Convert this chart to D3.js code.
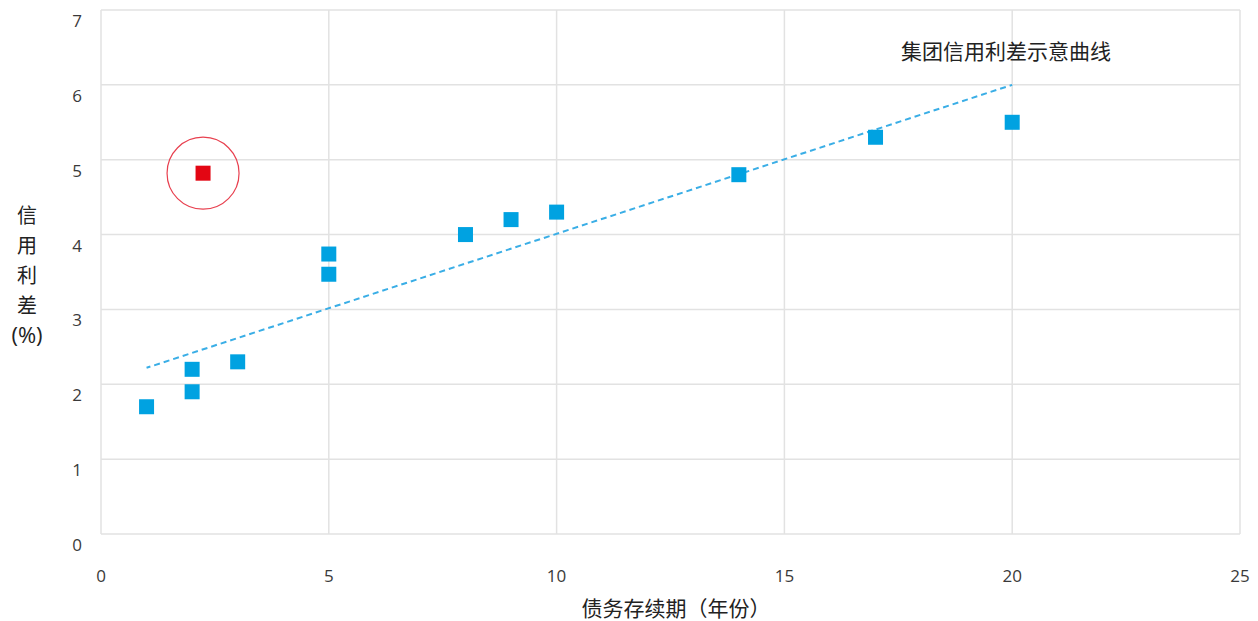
<!DOCTYPE html>
<html lang="zh">
<head>
<meta charset="UTF-8">
<title>集团信用利差示意曲线</title>
<script src="https://d3js.org/d3.v7.min.js"></script>
<style>
    html, body { margin: 0; background: #fff; overflow: hidden; }
    text { font-family: "Open Sans", "Noto Sans CJK SC", sans-serif; }
</style>
</head>
<body>
<svg id="svg"></svg>
<script>
    // data
    const duration = [1, 2, 2, 3, 5, 5, 8, 9, 10, 14, 17, 20];
    const spread   = [1.7, 1.9, 2.2, 2.3, 3.47, 3.74, 4.0, 4.2, 4.3, 4.8, 5.3, 5.5];
    const outlier = [2.24, 4.82];
    const trendX = [1, 20];
    const trendY = [2.22, 6.0];
    const xTicks = [0, 5, 10, 15, 20, 25];
    const yTicks = [0, 1, 2, 3, 4, 5, 6, 7];
    const yTitle = ['信', '用', '利', '差', '(%)'];

    const width = 1258, height = 621;
    const margin = { top: 10, left: 101, right: 18, bottom: 87 };
    const svg = d3.select('#svg').attr('width', width).attr('height', height);

    const x = d3.scaleLinear().domain([0, 25]).range([margin.left, width - margin.right]);
    const y = d3.scaleLinear().domain([0, 7]).range([height - margin.bottom, margin.top]);

    const grid = svg.append('g').attr('stroke', '#e2e2e2').attr('stroke-width', 1.5);
    grid.selectAll('.gy').data(yTicks).join('line')
        .attr('x1', x(0)).attr('x2', x(25))
        .attr('y1', d => y(d)).attr('y2', d => y(d));
    grid.selectAll('.gx').data(xTicks).join('line')
        .attr('x1', d => x(d)).attr('x2', d => x(d))
        .attr('y1', y(0)).attr('y2', y(7));

    // tick labels
    svg.append('g').selectAll('text').data(yTicks).join('text')
        .attr('x', 77).attr('y', d => y(d) + 17)
        .attr('text-anchor', 'middle')
        .attr('font-size', 17).attr('fill', '#3a3a3a')
        .text(d => d);
    svg.append('g').selectAll('text').data(xTicks).join('text')
        .attr('x', d => x(d)).attr('y', 582)
        .attr('text-anchor', 'middle')
        .attr('font-size', 17).attr('fill', '#3a3a3a')
        .text(d => d);

    // axis titles
    svg.append('text')
        .attr('x', 676).attr('y', 616)
        .attr('text-anchor', 'middle')
        .attr('font-size', 21).attr('fill', '#222')
        .style('font-family', '"Noto Sans CJK SC", sans-serif')
        .text('债务存续期（年份）');
    svg.append('g').selectAll('text').data(yTitle).join('text')
        .attr('x', 27).attr('y', (d, i) => 223 + i * 30)
        .attr('text-anchor', 'middle')
        .attr('fill', '#222')
        .style('font-family', (d, i) => i === 4 ? '"Open Sans", sans-serif' : '"Noto Sans CJK SC", sans-serif')
        .attr('font-size', (d, i) => i === 4 ? 22 : 20)
        .text(d => d);

    // trend line
    svg.append('line')
        .attr('x1', x(trendX[0])).attr('y1', y(trendY[0]))
        .attr('x2', x(trendX[1])).attr('y2', y(trendY[1]))
        .attr('stroke', '#3aaee6').attr('stroke-width', 2)
        .attr('stroke-dasharray', '6,4')
        .attr('stroke-dashoffset', 2);

    svg.append('text')
        .attr('x', 901).attr('y', 59)
        .attr('font-size', 21).attr('fill', '#222')
        .style('font-family', '"Noto Sans CJK SC", sans-serif')
        .text('集团信用利差示意曲线');

    // points
    const s = 15;
    svg.append('g').selectAll('rect').data(duration).join('rect')
        .attr('x', d => x(d) - s / 2)
        .attr('y', (d, i) => y(spread[i]) - s / 2)
        .attr('width', s).attr('height', s)
        .attr('fill', '#00a2e1');

    svg.append('rect')
        .attr('x', x(outlier[0]) - s / 2).attr('y', y(outlier[1]) - s / 2)
        .attr('width', s).attr('height', s)
        .attr('fill', '#e30613');
    svg.append('circle')
        .attr('cx', x(outlier[0])).attr('cy', y(outlier[1]))
        .attr('r', 36)
        .attr('fill', 'none').attr('stroke', '#e8404f').attr('stroke-width', 1.2);
</script>
</body>
</html>
